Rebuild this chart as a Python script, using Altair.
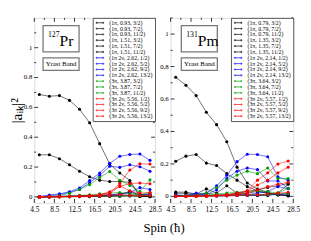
import altair as alt
import pandas as pd

spins = [5.5, 7.5, 9.5, 11.5, 13.5, 15.5, 17.5, 19.5, 21.5, 23.5, 25.5, 27.5]
x_ticks = [4.5, 8.5, 12.5, 16.5, 20.5, 24.5, 28.5]
y_ticks = [0, 0.2, 0.4, 0.6, 0.8, 1.0]
y_tick_text = ["0", "0.2", "0.4", "0.6", "0.8", "1"]
y_minor = [0.1, 0.3, 0.5, 0.7, 0.9, 1.1]
x_minor = [6.5, 10.5, 14.5, 18.5, 22.5, 26.5]

colors = ["#000000"] * 6 + ["#0000ff"] * 4 + ["#00a000"] * 3 + ["#ff0000"] * 4

pr_labels = ["(1π, 0.93, 3/2)", "(1π, 0.93, 7/2)", "(1π, 0.93, 11/2)",
             "(1π, 1.51, 3/2)", "(1π, 1.51, 7/2)", "(1π, 1.51, 11/2)",
             "(1π 2ν, 2.62, 1/2)", "(1π 2ν, 2.62, 5/2)", "(1π 2ν, 2.62, 9/2)", "(1π 2ν, 2.62, 13/2)",
             "(3π, 3.87, 3/2)", "(3π, 3.87, 7/2)", "(3π, 3.87, 11/2)",
             "(3π 2ν, 5.56, 1/2)", "(3π 2ν, 5.56, 5/2)", "(3π 2ν, 5.56, 9/2)", "(3π 2ν, 5.56, 13/2)"]
pm_labels = ["(1π, 0.79, 3/2)", "(1π, 0.79, 7/2)", "(1π, 0.79, 11/2)",
             "(1π, 1.35, 3/2)", "(1π, 1.35, 7/2)", "(1π, 1.35, 11/2)",
             "(1π 2ν, 2.14, 1/2)", "(1π 2ν, 2.14, 5/2)", "(1π 2ν, 2.14, 9/2)", "(1π 2ν, 2.14, 13/2)",
             "(3π, 3.64, 3/2)", "(3π, 3.64, 7/2)", "(3π, 3.64, 11/2)",
             "(3π 2ν, 5.57, 1/2)", "(3π 2ν, 5.57, 5/2)", "(3π 2ν, 5.57, 9/2)", "(3π 2ν, 5.57, 13/2)"]

# 127Pr amplitudes
pr_b1 = [0.686, 0.675, 0.679, 0.647, 0.587, 0.497, 0.357, 0.22, 0.16, 0.11, 0.005, 0.002]
pr_b2 = [0.282, 0.282, 0.256, 0.215, 0.172, 0.135, 0.112, 0.103, 0.103, 0.097, 0.01, 0.005]
pr_b3 = [0.002, 0.002, 0.003, 0.004, 0.005, 0.006, 0.008, 0.012, 0.02, 0.03, 0.015, 0.01]
pr_b4 = [0.001, 0.001, 0.002, 0.003, 0.004, 0.005, 0.006, 0.008, 0.01, 0.04, 0.01, 0.02]
pr_b5 = [0.0, 0.001, 0.001, 0.002, 0.002, 0.003, 0.004, 0.005, 0.006, 0.008, 0.004, 0.003]
pr_b6 = [0.0, 0.0, 0.001, 0.001, 0.002, 0.002, 0.003, 0.004, 0.005, 0.006, 0.003, 0.002]
pr_l1 = [0.002, 0.013, 0.02, 0.035, 0.06, 0.11, 0.16, 0.225, 0.272, 0.284, 0.288, 0.245]
pr_l2 = [0.001, 0.008, 0.015, 0.03, 0.05, 0.095, 0.145, 0.205, 0.198, 0.215, 0.202, 0.172]
pr_l3 = [0.0, 0.002, 0.004, 0.006, 0.008, 0.01, 0.012, 0.015, 0.02, 0.03, 0.062, 0.05]
pr_l4 = [0.0, 0.001, 0.002, 0.003, 0.004, 0.005, 0.006, 0.008, 0.01, 0.012, 0.015, 0.018]
pr_g1 = [0.001, 0.004, 0.008, 0.025, 0.05, 0.082, 0.13, 0.17, 0.112, 0.077, 0.036, 0.114]
pr_g2 = [0.0, 0.001, 0.003, 0.006, 0.01, 0.014, 0.02, 0.025, 0.03, 0.02, 0.015, 0.03]
pr_g3 = [0.0, 0.0, 0.001, 0.002, 0.003, 0.004, 0.005, 0.006, 0.008, 0.01, 0.008, 0.01]
pr_r1 = [0.0, 0.001, 0.002, 0.003, 0.005, 0.008, 0.012, 0.028, 0.09, 0.18, 0.222, 0.22]
pr_r2 = [0.0, 0.001, 0.002, 0.003, 0.005, 0.008, 0.015, 0.035, 0.07, 0.09, 0.093, 0.088]
pr_r3 = [0.0, 0.001, 0.002, 0.003, 0.004, 0.006, 0.01, 0.02, 0.075, 0.04, 0.025, 0.03]
pr_r4 = [0.0, 0.0, 0.001, 0.002, 0.003, 0.004, 0.006, 0.01, 0.015, 0.01, 0.008, 0.01]
pr_series = [pr_b1, pr_b2, pr_b3, pr_b4, pr_b5, pr_b6, pr_l1, pr_l2, pr_l3, pr_l4,
             pr_g1, pr_g2, pr_g3, pr_r1, pr_r2, pr_r3, pr_r4]

# 131Pm amplitudes
pm_b1 = [0.734, 0.685, 0.621, 0.518, 0.442, 0.337, 0.18, 0.082, 0.045, 0.025, 0.01, 0.002]
pm_b2 = [0.216, 0.248, 0.258, 0.205, 0.19, 0.14, 0.1, 0.06, 0.035, 0.02, 0.008, 0.005]
pm_b3 = [0.026, 0.026, 0.015, 0.046, 0.02, 0.065, 0.02, 0.01, 0.005, 0.005, 0.02, 0.075]
pm_b4 = [0.02, 0.018, 0.012, 0.02, 0.01, 0.01, 0.02, 0.03, 0.04, 0.055, 0.065, 0.08]
pm_b5 = [0.005, 0.005, 0.004, 0.006, 0.005, 0.008, 0.01, 0.02, 0.03, 0.02, 0.01, 0.005]
pm_b6 = [0.002, 0.002, 0.002, 0.003, 0.003, 0.004, 0.005, 0.006, 0.008, 0.01, 0.012, 0.015]
pm_l1 = [0.003, 0.005, 0.01, 0.02, 0.065, 0.13, 0.214, 0.26, 0.258, 0.244, 0.12, 0.1]
pm_l2 = [0.002, 0.004, 0.015, 0.01, 0.04, 0.11, 0.155, 0.175, 0.165, 0.095, 0.095, 0.05]
pm_l3 = [0.01, 0.005, 0.02, 0.005, 0.005, 0.005, 0.01, 0.01, 0.02, 0.03, 0.06, 0.047]
pm_l4 = [0.0, 0.001, 0.002, 0.002, 0.003, 0.004, 0.005, 0.006, 0.008, 0.01, 0.012, 0.015]
pm_g1 = [0.002, 0.005, 0.008, 0.02, 0.055, 0.1, 0.131, 0.155, 0.14, 0.175, 0.11, 0.11]
pm_g2 = [0.0, 0.002, 0.004, 0.01, 0.015, 0.02, 0.025, 0.03, 0.035, 0.03, 0.02, 0.05]
pm_g3 = [0.0, 0.001, 0.002, 0.003, 0.004, 0.005, 0.006, 0.008, 0.01, 0.012, 0.015, 0.02]
pm_r1 = [0.0, 0.001, 0.002, 0.003, 0.005, 0.01, 0.02, 0.036, 0.1, 0.145, 0.2, 0.218]
pm_r2 = [0.0, 0.001, 0.002, 0.003, 0.005, 0.008, 0.015, 0.03, 0.07, 0.1, 0.145, 0.18]
pm_r3 = [0.0, 0.001, 0.002, 0.003, 0.004, 0.006, 0.01, 0.02, 0.04, 0.06, 0.075, 0.087]
pm_r4 = [0.0, 0.0, 0.001, 0.002, 0.003, 0.004, 0.006, 0.008, 0.01, 0.015, 0.02, 0.025]
pm_series = [pm_b1, pm_b2, pm_b3, pm_b4, pm_b5, pm_b6, pm_l1, pm_l2, pm_l3, pm_l4,
             pm_g1, pm_g2, pm_g3, pm_r1, pm_r2, pm_r3, pm_r4]

SERIF = "Liberation Serif"
# legend glyph: short line with a dot at each end (unit space, shifted right)
LEG_PATH = ("M-0.6,0L4,0"
            "M-0.1,0A0.45,0.45 0 1,1 -1.0,0A0.45,0.45 0 1,1 -0.1,0"
            "M4.2,0A0.45,0.45 0 1,1 3.3,0A0.45,0.45 0 1,1 4.2,0")


def panel(labels, series, ymax, width, mass, sym, box_x, show_title, row_pad):
    rows = []
    for lab, vals in zip(labels, series):
        for s, v in zip(spins, vals):
            rows.append({"spin": s, "val": v, "label": lab})
    df = pd.DataFrame(rows)
    height = 190
    xs = alt.Scale(domain=[4.5, 28.5], nice=False, zero=False)
    ys = alt.Scale(domain=[-0.04, ymax], nice=False, zero=False)
    ax_x = alt.Axis(values=x_ticks, title=None, ticks=False, domain=False, grid=False,
                    format=".1f", labelFont=SERIF, labelFontSize=7.5, labelPadding=3,
                    labelColor="#000", labelFlush=False, labelOverlap=False)
    ax_y = alt.Axis(values=y_ticks, title="|aᵢₖ|²" if show_title else None,
                    titleFont=SERIF, titleFontSize=16, titleFontWeight="normal",
                    titleColor="#000", titlePadding=10, labels=False,
                    ticks=False, domain=False, grid=False)
    x = alt.X("spin:Q", scale=xs, axis=ax_x)
    y = alt.Y("val:Q", scale=ys, axis=ax_y)
    cscale = alt.Scale(domain=labels, range=colors)
    lines = alt.Chart(df).mark_line(strokeWidth=0.8, opacity=0.7).encode(
        x=x, y=y,
        color=alt.Color("label:N", scale=cscale,
                        legend=alt.Legend(title=None, orient="top-right", offset=0,
                                          symbolType=LEG_PATH, symbolSize=9,
                                          symbolStrokeWidth=1, labelFont=SERIF,
                                          labelFontSize=6, labelColor="#000",
                                          rowPadding=row_pad,
                                          labelOffset=9, padding=2,
                                          strokeColor="#555", fillColor="white",
                                          labelLimit=200)),
        order="spin:Q")
    pts = alt.Chart(df).mark_point(filled=True, size=10, opacity=1).encode(
        x=x, y=y, color=alt.Color("label:N", scale=cscale, legend=None))

    # y tick labels placed through the y scale
    ylab = pd.DataFrame({"val": y_ticks, "t": y_tick_text})
    ytext = alt.Chart(ylab).mark_text(font=SERIF, fontSize=7, align="right", baseline="middle",
                                      color="#000").encode(
        y=y, x=alt.value(-2), text="t:N")

    # inward tick marks from tick value lists
    ymaj = pd.DataFrame({"val": y_ticks})
    ymin = pd.DataFrame({"val": y_minor})
    xmaj = pd.DataFrame({"spin": x_ticks})
    xmin = pd.DataFrame({"spin": x_minor})
    tk = []
    for d, ln in ((ymaj, 4), (ymin, 2)):
        tk.append(alt.Chart(d).mark_rule(color="#000", strokeWidth=0.8).encode(
            y=y, x=alt.value(0), x2=alt.value(ln)))
        tk.append(alt.Chart(d).mark_rule(color="#000", strokeWidth=0.8).encode(
            y=y, x=alt.value(width - ln), x2=alt.value(width)))
    for d, ln in ((xmaj, 4), (xmin, 2)):
        tk.append(alt.Chart(d).mark_rule(color="#000", strokeWidth=0.8).encode(
            x=x, y=alt.value(0), y2=alt.value(ln)))
        tk.append(alt.Chart(d).mark_rule(color="#000", strokeWidth=0.8).encode(
            x=x, y=alt.value(height - ln), y2=alt.value(height)))

    one = pd.DataFrame({"m": [mass], "s": [sym], "b": ["Yrast Band"]})
    box1 = alt.Chart(one).mark_rect(fill="white", stroke="#777", strokeWidth=1.3).encode(
        x=alt.value(box_x), x2=alt.value(box_x + 37), y=alt.value(8), y2=alt.value(35))
    box2 = alt.Chart(one).mark_rect(fill="white", stroke="#777", strokeWidth=1.3).encode(
        x=alt.value(box_x), x2=alt.value(box_x + 37), y=alt.value(41), y2=alt.value(54))
    t_mass = alt.Chart(one).mark_text(font=SERIF, fontSize=8, align="right", baseline="alphabetic",
                                      color="#000").encode(
        x=alt.value(box_x + 17), y=alt.value(20), text="m:N")
    t_sym = alt.Chart(one).mark_text(font=SERIF, fontSize=16, align="left", baseline="alphabetic",
                                     color="#000").encode(
        x=alt.value(box_x + 17), y=alt.value(29), text="s:N")
    t_band = alt.Chart(one).mark_text(font=SERIF, fontSize=7, align="center", baseline="middle",
                                      color="#000").encode(
        x=alt.value(box_x + 18.5), y=alt.value(47.5), text="b:N")

    return alt.layer(lines, pts, ytext, *tk, box1, box2, t_mass, t_sym, t_band).properties(
        width=width, height=height)


left = panel(pr_labels, pr_series, 1.2, 124, "127", "Pr", 9, True, -0.8)
right = panel(pm_labels, pm_series, 1.1, 126, "131", "Pm", 11, False, -0.3)

chart = alt.hconcat(left, right, spacing=16, bounds="flush").resolve_scale(
    color="independent", x="independent", y="independent").properties(
    title=alt.TitleParams("Spin (ħ)", orient="bottom", anchor="middle", font=SERIF,
                          fontSize=13, fontWeight="normal", color="#000", offset=9, dx=10),
    padding={"left": 0, "top": 6, "right": 2, "bottom": 2}
).configure_view(stroke="#000", strokeWidth=1).configure(background="white")

chart.save("out.html", embed_options={"renderer": "svg", "actions": False})
